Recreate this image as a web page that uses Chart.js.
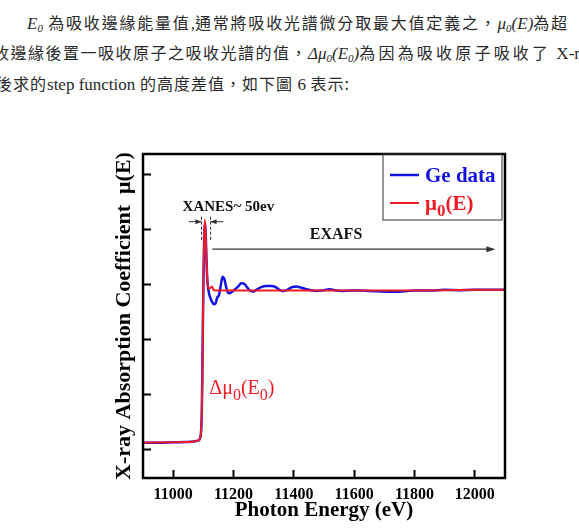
<!DOCTYPE html>
<html>
<head>
<meta charset="utf-8">
<script src="https://cdn.jsdelivr.net/npm/chart.js@4.4.1/dist/chart.umd.min.js"></script>
<style>
  body { margin:0; background:#fff; width:579px; height:532px; overflow:hidden; position:relative; }
  .ln { position:absolute; white-space:nowrap; font-family:"Noto Sans CJK TC", sans-serif; font-size:16px; letter-spacing:1px; color:#2a2a2a; line-height:20px; }
  .ln i, .ln .r { font-family:"Liberation Serif", serif; letter-spacing:0; font-size:17px; }
  .ln sub { font-size:11px; vertical-align:-3px; line-height:0; }
  #c { position:absolute; left:0; top:0; }
</style>
</head>
<body>
<div class="ln" style="left:27px; top:12px; letter-spacing:1.8px"><i>E<sub>0</sub></i> 為吸收邊緣能量值<span class="r">,</span>通常將吸收光譜微分取最大值定義之，<i>μ<sub>0</sub>(E)</i>為超</div>
<div class="ln" style="left:-7px; top:42px; letter-spacing:1.5px">收邊緣後置一吸收原子之吸收光譜的值，<i>Δμ<sub>0</sub>(E<sub>0</sub>)</i><span style="letter-spacing:3.2px">為因為吸收原子吸收了</span> <span class="r">X-ray</span></div>
<div class="ln" style="left:-4px; top:73px">後求的<span class="r">step function</span> 的高度差值，如下圖 <span class="r">6</span> 表示:</div>
<canvas id="c" width="579" height="532"></canvas>
<script>
// Ge K-edge absorption (arbitrary units)
const geEnergy = [10900, 10950, 11000, 11040, 11070, 11082, 11088, 11092, 11095, 11097, 11099, 11101, 11103, 11105, 11107, 11110, 11113, 11117, 11121, 11128, 11135, 11140, 11146, 11152, 11158, 11164, 11170, 11176, 11182, 11188, 11196, 11205, 11215, 11226, 11236, 11246, 11256, 11266, 11278, 11292, 11308, 11325, 11340, 11352, 11364, 11378, 11394, 11408, 11425, 11442, 11460, 11475, 11495, 11518, 11540, 11560, 11590, 11620, 11650, 11690, 11730, 11770, 11800, 11850, 11900, 11950, 12000, 12050, 12100];
const geMu = [0.13, 0.13, 0.14, 0.145, 0.155, 0.17, 0.2, 0.3, 0.7, 1.5, 2.5, 3.3, 3.9, 4.12, 4.02, 3.55, 3.1, 2.9, 2.8, 2.7, 2.65, 2.66, 2.77, 2.82, 3.0, 3.15, 3.1, 2.95, 2.86, 2.85, 2.88, 2.92, 2.97, 3.03, 3.02, 2.95, 2.89, 2.88, 2.92, 2.96, 2.98, 2.98, 2.96, 2.91, 2.89, 2.91, 2.96, 2.97, 2.95, 2.92, 2.9, 2.89, 2.9, 2.92, 2.9, 2.89, 2.9, 2.9, 2.89, 2.88, 2.875, 2.885, 2.9, 2.9, 2.91, 2.905, 2.91, 2.91, 2.91];
// smooth background mu0(E)
const bgEnergy = [10900, 11000, 11040, 11070, 11082, 11088, 11092, 11095, 11097, 11099, 11101, 11103, 11105, 11107, 11110, 11114, 11118, 11124, 11129, 11133, 11140, 11200, 11400, 11600, 11800, 12000, 12100];
const bgMu = [0.13, 0.14, 0.145, 0.155, 0.17, 0.2, 0.3, 0.7, 1.5, 2.5, 3.3, 3.9, 4.18, 4.02, 3.5, 3.05, 2.93, 2.95, 2.97, 2.92, 2.9, 2.9, 2.9, 2.9, 2.9, 2.91, 2.91];

const xTicks = [11000, 11200, 11400, 11600, 11800, 12000];
const yTicks = [0, 1, 2, 3, 4, 5];

const BLUE = '#1212e6';
const RED = '#ee1c25';
const SERIF = '"Liberation Serif", "Times New Roman", serif';

// draw text with subscript pieces, returns end x
function richText(ctx, x, y, parts, size, weight, color) {
  ctx.fillStyle = color;
  ctx.textBaseline = 'alphabetic';
  ctx.textAlign = 'left';
  for (const p of parts) {
    const s = p.sub ? Math.round(size * 0.8) : size;
    ctx.font = weight + ' ' + s + 'px ' + SERIF;
    ctx.fillText(p.t, x, p.sub ? y + size * 0.3 : y);
    x += ctx.measureText(p.t).width;
  }
  return x;
}

function arrowHead(ctx, x, y, dir, len, half) {
  ctx.beginPath();
  ctx.moveTo(x, y);
  ctx.lineTo(x - dir * len, y - half);
  ctx.lineTo(x - dir * len, y + half);
  ctx.closePath();
  ctx.fill();
}

const frame = {
  id: 'frame',
  afterDraw(chart) {
    const ctx = chart.ctx, ca = chart.chartArea;
    const xs = chart.scales.x, ys = chart.scales.y;
    const X = v => xs.getPixelForValue(v), Y = v => ys.getPixelForValue(v);
    ctx.save();

    // plot box
    ctx.strokeStyle = '#000';
    ctx.lineWidth = 2.5;
    ctx.strokeRect(ca.left, ca.top, ca.right - ca.left, ca.bottom - ca.top);

    // legend box
    const lx = ca.right - 122, lw = 119, lh = 66;
    ctx.lineWidth = 1;
    ctx.strokeStyle = '#333';
    ctx.strokeRect(lx, ca.top, lw, lh);
    ctx.lineWidth = 2.5;
    ctx.strokeStyle = BLUE;
    ctx.beginPath(); ctx.moveTo(lx + 7, ca.top + 21); ctx.lineTo(lx + 36, ca.top + 21); ctx.stroke();
    richText(ctx, lx + 42, ca.top + 28, [{t: 'Ge data'}], 21, 'bold', BLUE);
    ctx.lineWidth = 2;
    ctx.strokeStyle = RED;
    ctx.beginPath(); ctx.moveTo(lx + 7, ca.top + 49); ctx.lineTo(lx + 36, ca.top + 49); ctx.stroke();
    richText(ctx, lx + 42, ca.top + 56, [{t: 'μ'}, {t: '0', sub: true}, {t: '(E)'}], 21, 'bold', RED);

    // XANES marker
    ctx.fillStyle = '#111';
    ctx.font = 'bold 15px ' + SERIF;
    ctx.textAlign = 'center';
    ctx.textBaseline = 'middle';
    ctx.fillText('XANES~ 50ev', X(11183), Y(4.42));
    ctx.strokeStyle = '#333';
    ctx.lineWidth = 1;
    ctx.setLineDash([3, 2]);
    ctx.beginPath();
    ctx.moveTo(X(11094), Y(4.24)); ctx.lineTo(X(11094), Y(3.8));
    ctx.moveTo(X(11124), Y(4.24)); ctx.lineTo(X(11124), Y(3.8));
    ctx.stroke();
    ctx.setLineDash([]);
    const ay = Y(4.15);
    ctx.beginPath();
    ctx.moveTo(X(11052), ay); ctx.lineTo(X(11094), ay);
    ctx.moveTo(X(11166), ay); ctx.lineTo(X(11124), ay);
    ctx.stroke();
    ctx.fillStyle = '#333';
    arrowHead(ctx, X(11094), ay, 1, 6, 2.5);
    arrowHead(ctx, X(11124), ay, -1, 6, 2.5);

    // EXAFS arrow
    ctx.fillStyle = '#111';
    ctx.font = 'bold 16px ' + SERIF;
    ctx.textAlign = 'center';
    ctx.fillText('EXAFS', X(11540), Y(3.91));
    const ey = Y(3.65);
    ctx.strokeStyle = '#333';
    ctx.lineWidth = 1.2;
    ctx.beginPath(); ctx.moveTo(X(11130), ey); ctx.lineTo(X(12060), ey); ctx.stroke();
    ctx.fillStyle = '#333';
    arrowHead(ctx, X(12068), ey, 1, 9, 3);

    // edge step label
    richText(ctx, X(11120), Y(1.15) + 7, [{t: 'Δμ'}, {t: '0', sub: true}, {t: '(E'}, {t: '0', sub: true}, {t: ')'}], 20, 'normal', RED);

    ctx.restore();
  }
};

new Chart(document.getElementById('c'), {
  type: 'line',
  data: {
    datasets: [{
      label: 'Ge data',
      data: geEnergy.map((x, i) => ({x: x, y: geMu[i]})),
      borderColor: BLUE,
      borderWidth: 2.5,
      cubicInterpolationMode: 'monotone',
      order: 1
    }, {
      label: 'μ0(E)',
      data: bgEnergy.map((x, i) => ({x: x, y: bgMu[i]})),
      borderColor: RED,
      borderWidth: 2,
      cubicInterpolationMode: 'monotone',
      order: 0
    }]
  },
  options: {
    responsive: false,
    animation: false,
    layout: {padding: {top: 154, right: 74, bottom: 0, left: 0}},
    elements: {point: {radius: 0}},
    plugins: {legend: {display: false}, tooltip: {enabled: false}},
    scales: {
      x: {
        type: 'linear', min: 10900, max: 12100,
        afterBuildTicks: s => { s.ticks = xTicks.map(v => ({value: v})); },
        afterFit: s => { s.height = 54; },
        border: {display: false},
        grid: {drawOnChartArea: false, drawTicks: true, tickLength: -8, tickWidth: 2, tickColor: '#000'},
        ticks: {padding: 15, color: '#000', autoSkip: false, maxRotation: 0,
          font: {family: SERIF, size: 16, weight: 'bold'}, callback: v => String(v)},
        title: {display: true, text: 'Photon Energy (eV)', color: '#000',
          font: {family: SERIF, size: 21, weight: 'bold'}, padding: {top: 0, bottom: 9}}
      },
      y: {
        type: 'linear', min: -0.51, max: 5.38,
        afterBuildTicks: s => { s.ticks = yTicks.map(v => ({value: v})); },
        afterFit: s => { s.width = 143; },
        border: {display: false},
        grid: {drawOnChartArea: false, drawTicks: true, tickLength: -8, tickWidth: 2, tickColor: '#000'},
        ticks: {display: false},
        title: {display: true, text: 'X-ray Absorption Coefficient  μ(E)', color: '#000',
          font: {family: SERIF, size: 22, weight: 'bold'}, padding: {top: 111, bottom: 0}}
      }
    }
  },
  plugins: [frame]
});
</script>
</body>
</html>
